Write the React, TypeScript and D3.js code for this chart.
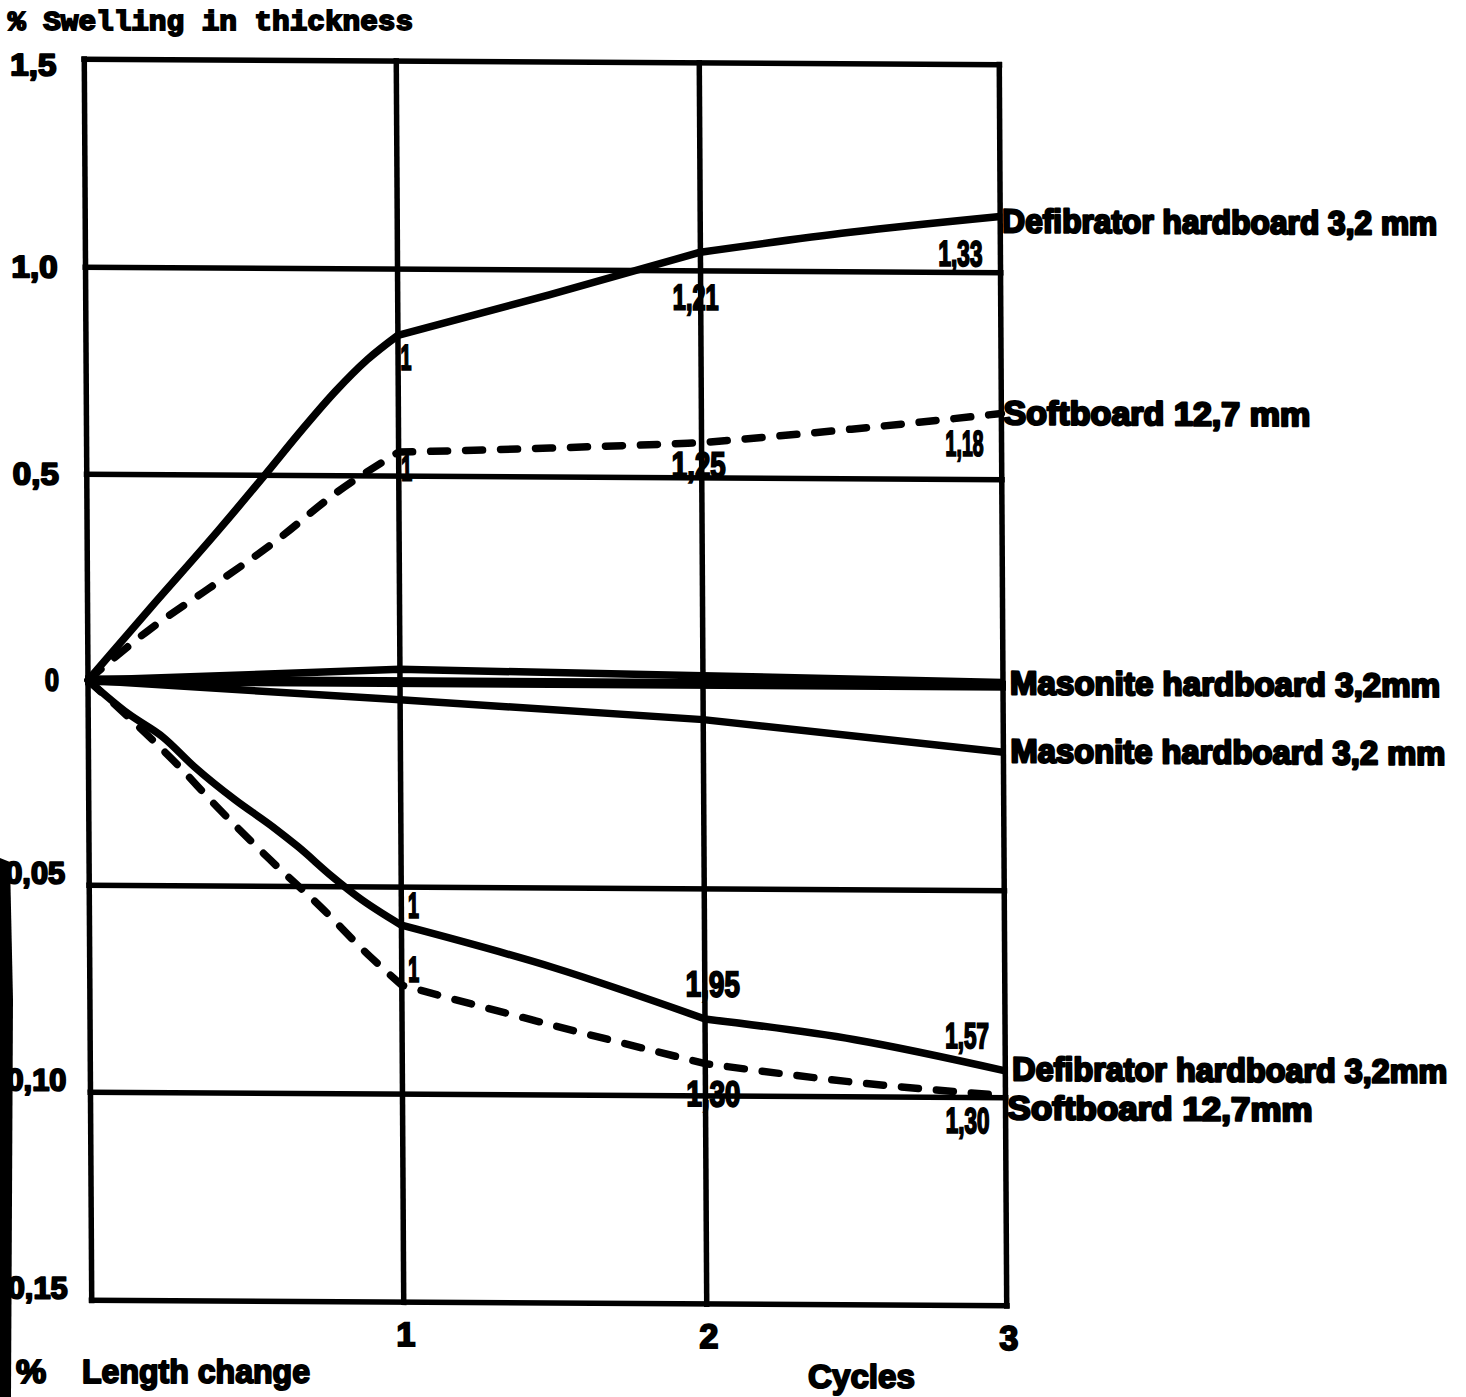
import React from "react";
import * as d3 from "d3";

// ---- data -------------------------------------------------------------
const cycleTicks = [1, 2, 3];
const cycleGrid = [0, 1, 2, 3];

const thicknessTicks = [1.5, 1.0, 0.5, 0];
const thicknessTickLabels = ["1,5", "1,0", "0,5", "0"];
const lengthTicks = [-0.05, -0.1, -0.15];
const lengthTickLabels = ["0,05", "0,10", "0,15"];

// % swelling in thickness (upper half), [cycle, value]
const defibratorThickness: [number, number][] = [
  [0, 0], [0.2, 0.175], [0.42, 0.365], [0.57, 0.5], [0.69, 0.61], [0.8, 0.705], [0.9, 0.78],
  [1, 0.84], [1.5, 0.94], [2, 1.045], [2.5, 1.095], [3, 1.135],
];
const softboardThickness: [number, number][] = [
  [0, 0], [0.2, 0.125], [0.39, 0.225], [0.6, 0.338], [0.8, 0.459], [1, 0.558],
  [1.5, 0.57], [2, 0.585], [2.5, 0.62], [3, 0.66],
];
const masoniteThickness: [number, number][] = [
  [0, 0], [1, 0.031], [2, 0.02], [3, 0.008],
];

// % length change (lower half), [cycle, value]
const masoniteLength: [number, number][] = [
  [0, 0], [1, -0.0043], [2, -0.0087], [3, -0.0162],
];
const defibratorLength: [number, number][] = [
  [0, 0], [0.13, -0.0082], [0.24, -0.0138], [0.34, -0.021], [0.47, -0.029], [0.59, -0.0355],
  [0.67, -0.0403], [0.78, -0.0476], [0.86, -0.0524], [1, -0.0592],
  [1.5, -0.0692], [2, -0.0814], [2.5, -0.0862], [3, -0.0935],
];
const softboardLength: [number, number][] = [
  [0, 0], [0.13, -0.009], [0.27, -0.0193], [0.42, -0.0314], [0.58, -0.0435], [0.74, -0.0548],
  [0.9, -0.0669], [1, -0.0737], [1.5, -0.0832], [2, -0.0922], [2.5, -0.0965], [3, -0.0995],
];

// point annotations: series key, cycle, text
const annotations = [
  { key: "defT", cycle: 1, text: "1" },
  { key: "softT", cycle: 1, text: "1" },
  { key: "defT", cycle: 2, text: "1,21" },
  { key: "softT", cycle: 2, text: "1,25" },
  { key: "defT", cycle: 3, text: "1,33" },
  { key: "softT", cycle: 3, text: "1,18" },
  { key: "defL", cycle: 1, text: "1" },
  { key: "softL", cycle: 1, text: "1" },
  { key: "defL", cycle: 2, text: "1,95" },
  { key: "softL", cycle: 2, text: "1,30" },
  { key: "defL", cycle: 3, text: "1,57" },
  { key: "softL", cycle: 3, text: "1,30" },
];

// end-of-line series names
const seriesNames = [
  { key: "defT", text: "Defibrator hardboard 3,2 mm" },
  { key: "softT", text: "Softboard 12,7 mm" },
  { key: "masT", text: "Masonite hardboard 3,2mm" },
  { key: "masL", text: "Masonite hardboard 3,2 mm" },
  { key: "defL", text: "Defibrator hardboard 3,2mm" },
  { key: "softL", text: "Softboard 12,7mm" },
];

// ---- layout -----------------------------------------------------------
const W = 1466;
const H = 1397;

const x = d3.scaleLinear().domain([0, 1, 2, 3]).range([88, 400, 703, 1003]);
const yT = d3.scaleLinear().domain([0, 0.5, 1, 1.5]).range([683, 477, 270, 62]);
const yL = d3.scaleLinear().domain([-0.15, -0.1, -0.05, 0]).range([1303, 1095, 888, 683]);

const seriesDefs: Record<string, { data: [number, number][]; y: d3.ScaleLinear<number, number>; dashed: boolean }> = {
  defT: { data: defibratorThickness, y: yT, dashed: false },
  softT: { data: softboardThickness, y: yT, dashed: true },
  masT: { data: masoniteThickness, y: yT, dashed: false },
  masL: { data: masoniteLength, y: yL, dashed: false },
  defL: { data: defibratorLength, y: yL, dashed: false },
  softL: { data: softboardLength, y: yL, dashed: true },
};

// label offsets from the annotated point
const annotationOffsets = [
  [8, 22], [8, 16], [-5, 45], [-3, 22], [-40, 37], [-37, 30],
  [12, -20], [12, -16], [8, -35], [8, 30], [-38, -35], [-38, 25],
];
const annotationWidths = [11, 11, 46, 54, 44, 38, 11, 11, 54, 54, 44, 44];

// series-name placement: y centre and width
const nameLayout = [
  { y: 218, w: 435, x0: 1005 },
  { y: 410, w: 307, x0: 1005 },
  { y: 680, w: 430, x0: 1010 },
  { y: 748, w: 435, x0: 1010 },
  { y: 1066, w: 435, x0: 1010 },
  { y: 1105, w: 305, x0: 1005 },
];

const ink = "#000";
const heavy = "'Liberation Sans', Arial, sans-serif";

// slight shear of the drawing sheet around the centre of the zero line
const sx = 0.006;
const sy = 0.006;
const shear = `matrix(1, ${sy}, ${sx}, 1, ${-sx * 683}, ${-sy * 545})`;

// Each series is drawn cycle by cycle: smooth inside a cycle, with a corner
// at every whole-cycle reading.
function seriesPath(data: [number, number][], y: d3.ScaleLinear<number, number>) {
  const gen = d3
    .line<[number, number]>()
    .x((d) => x(d[0]))
    .y((d) => y(d[1]))
    .curve(d3.curveMonotoneX);
  const parts: string[] = [];
  for (let c = 0; c < 3; c++) {
    const seg = data.filter((d) => d[0] >= c && d[0] <= c + 1);
    parts.push(gen(seg) || "");
  }
  // join the pieces into one continuous path (drop repeated move-to)
  return parts.map((p, i) => (i === 0 ? p : p.replace(/^M[^LC]*/, ""))).join("");
}

export default function App() {
  const valueAt = (key: string, c: number) => {
    const s = seriesDefs[key];
    const p = s.data.find((d) => d[0] === c)!;
    return [x(c), s.y(p[1])];
  };

  const xLeft = x(0);
  const xRight = x(3);
  const yTop = yT(1.5);
  const yBottom = yL(-0.15);

  return (
    <svg
      width={W}
      height={H}
      viewBox={`0 0 ${W} ${H}`}
      style={{ position: "absolute", left: 0, top: 0, background: "#fff" }}
    >
      <rect x={0} y={0} width={W} height={H} fill="#fff" />
      <g transform={shear}>
        {/* grid: cycles */}
        {cycleGrid.map((c) => (
          <line key={`vx${c}`} x1={x(c)} x2={x(c)} y1={yTop - 3} y2={yBottom + 3} stroke={ink} strokeWidth={5.5} />
        ))}
        {/* grid: thickness */}
        {thicknessTicks.map((t) => (
          <line
            key={`ht${t}`}
            x1={xLeft - 3}
            x2={xRight + 3}
            y1={yT(t)}
            y2={yT(t)}
            stroke={ink}
            strokeWidth={t === 0 ? 10 : 5.5}
          />
        ))}
        {/* grid: length change */}
        {lengthTicks.map((t) => (
          <line key={`hl${t}`} x1={xLeft - 3} x2={xRight + 3} y1={yL(t)} y2={yL(t)} stroke={ink} strokeWidth={5.5} />
        ))}

        {/* series */}
        {Object.entries(seriesDefs).map(([k, s]) => (
          <path
            key={k}
            d={seriesPath(s.data, s.y)}
            fill="none"
            stroke={ink}
            strokeWidth={7.5}
            strokeLinejoin="round"
            strokeLinecap={s.dashed ? "round" : "butt"}
            strokeDasharray={s.dashed ? "17 18" : undefined}
          />
        ))}

        {/* point annotations */}
        {annotations.map((a, i) => {
          const [px, py] = valueAt(a.key, a.cycle);
          const [dx, dy] = annotationOffsets[i];
          return (
            <text
              key={`an${i}`}
              x={px + dx}
              y={py + dy}
              textAnchor="middle"
              dominantBaseline="central"
              fontFamily={heavy}
              fontWeight={900}
              fontSize={36}
              stroke={ink}
              strokeWidth={2}
              textLength={annotationWidths[i]}
              lengthAdjust="spacingAndGlyphs"
              fill={ink}
            >
              {a.text}
            </text>
          );
        })}

        {/* series names at the right edge */}
        {seriesNames.map((s, i) => (
          <text
            key={`nm${i}`}
            x={nameLayout[i].x0}
            y={nameLayout[i].y}
            dominantBaseline="central"
            fontFamily={heavy}
            fontWeight={900}
            fontSize={33}
            stroke={ink}
            strokeWidth={2.4}
            strokeLinejoin="round"
            textLength={nameLayout[i].w}
            lengthAdjust="spacingAndGlyphs"
            fill={ink}
          >
            {s.text}
          </text>
        ))}

        {/* y tick labels: thickness */}
        {thicknessTicks.map((t, i) => (
          <text
            key={`tt${t}`}
            x={t === 0 ? 52 : 37}
            y={yT(t) + (t === 1.5 ? 6 : 0)}
            textAnchor="middle"
            dominantBaseline="central"
            fontFamily={heavy}
            fontWeight={700}
            fontSize={31}
            stroke={ink}
            strokeWidth={2}
            strokeLinejoin="round"
            textLength={t === 0 ? 14 : 46}
            lengthAdjust="spacingAndGlyphs"
            fill={ink}
          >
            {thicknessTickLabels[i]}
          </text>
        ))}
        {/* y tick labels: length change */}
        {lengthTicks.map((t, i) => (
          <text
            key={`tl${t}`}
            x={4}
            y={yL(t) - 12}
            dominantBaseline="central"
            fontFamily={heavy}
            fontWeight={700}
            fontSize={31}
            stroke={ink}
            strokeWidth={2}
            strokeLinejoin="round"
            textLength={60}
            lengthAdjust="spacingAndGlyphs"
            fill={ink}
          >
            {lengthTickLabels[i]}
          </text>
        ))}

        {/* x tick labels */}
        {cycleTicks.map((c) => (
          <text
            key={`xc${c}`}
            x={x(c) + 2}
            y={yBottom + 32}
            textAnchor="middle"
            dominantBaseline="central"
            fontFamily={heavy}
            fontWeight={900}
            fontSize={34}
            stroke={ink}
            strokeWidth={2}
            fill={ink}
          >
            {c}
          </text>
        ))}
      </g>

      {/* axis titles */}
      <text
        x={8}
        y={30}
        fontFamily="'Liberation Mono', 'DejaVu Sans Mono', monospace"
        fontWeight={700}
        fontSize={27}
        stroke={ink}
        strokeWidth={1.8}
        textLength={405}
        lengthAdjust="spacingAndGlyphs"
        fill={ink}
      >
        % Swelling in thickness
      </text>
      <text
        x={16}
        y={1383}
        fontFamily={heavy}
        fontWeight={900}
        fontSize={34}
        stroke={ink}
        strokeWidth={2}
        fill={ink}
      >
        %
      </text>
      <text
        x={82}
        y={1383}
        fontFamily={heavy}
        fontWeight={900}
        fontSize={34}
        stroke={ink}
        strokeWidth={2}
        strokeLinejoin="round"
        textLength={228}
        lengthAdjust="spacingAndGlyphs"
        fill={ink}
      >
        Length change
      </text>
      <text
        x={808}
        y={1388}
        fontFamily={heavy}
        fontWeight={900}
        fontSize={34}
        stroke={ink}
        strokeWidth={2}
        strokeLinejoin="round"
        textLength={107}
        lengthAdjust="spacingAndGlyphs"
        fill={ink}
      >
        Cycles
      </text>

      {/* dark binding edge along the lower left */}
      <path d="M0,858 L10,862 L13,1000 L12,1200 L11,1397 L0,1397 Z" fill={ink} />
    </svg>
  );
}
